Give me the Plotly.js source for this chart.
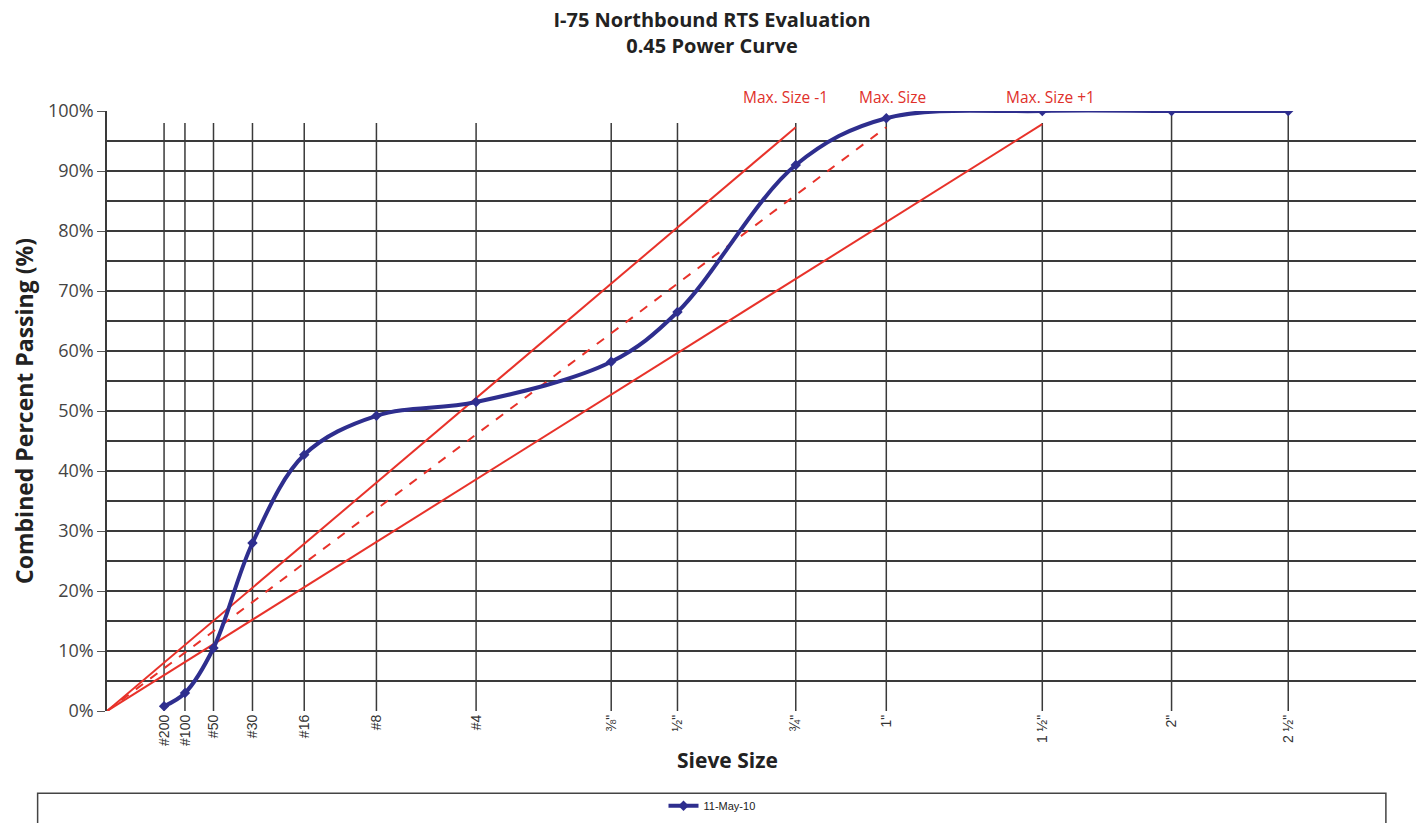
<!DOCTYPE html>
<html><head><meta charset="utf-8">
<script src="https://cdn.plot.ly/plotly-3.0.1.min.js"></script>
<style>html,body{margin:0;padding:0;background:#fff;}#chart{width:1424px;height:823px;}</style>
</head><body><div id="chart"></div>
<script>
// Sieve sizes (mm) and labels
const sieveLabels = ['#200','#100','#50','#30','#16','#8','#4','⅜"','½"','¾"','1"','1 ½"','2"','2 ½"'];
const sieveSizesMm = [0.075,0.15,0.3,0.6,1.18,2.36,4.75,9.5,12.5,19,25,37.5,50,63];
// Combined percent passing, 11-May-10
const percentPassing = [0.8,3,10.5,28,42.7,49.2,51.5,58.2,66.5,91,98.8,100,100,100];
// Maximum density lines: sizes (mm) and end percentage
const maxLineNames = ['Max. Size -1','Max. Size','Max. Size +1'];
const maxLineSizesMm = [19,25,37.5];
const maxLineEndPct = [97.3,97.3,97.8];
const dropLineTopPct = [98,98,98,98,98,98,98,98,98,98,99,98,100,100];
const exponent = 0.45;

const pw = d => Math.pow(d, exponent);
const xs = sieveSizesMm.map(pw);

const traces = [];
// vertical sieve lines
const vx = [], vy = [];
xs.forEach((x,i)=>{ vx.push(x,x,null); vy.push(0,dropLineTopPct[i],null); });
traces.push({x:vx,y:vy,mode:'lines',line:{color:'#3a3a3a',width:1.5},showlegend:false,hoverinfo:'skip'});
// max density lines
maxLineSizesMm.forEach((d,i)=>{
  traces.push({x:[0,pw(d)],y:[0,maxLineEndPct[i]],mode:'lines',
    line:{color:'#e8322a',width:2,dash:i===1?'dash':'solid'},showlegend:false,hoverinfo:'skip'});
});
// gradation curve
traces.push({x:xs,y:percentPassing,name:'11-May-10',mode:'lines+markers',
  line:{color:'#2e2e8e',width:4,shape:'spline',smoothing:1},
  marker:{symbol:'diamond',size:8,color:'#2e2e8e'}});

const annotations = maxLineNames.map((n,i)=>({
  x:pw(maxLineSizesMm[i]), y:1, xref:'x', yref:'paper', yanchor:'bottom', yshift:1,
  text:n, showarrow:false, font:{family:'Open Sans, sans-serif',size:15.5,color:'#e0302a'}
}));
annotations[0].xshift=-10; annotations[1].xshift=6; annotations[2].xshift=8;
annotations.push({x:0.474,y:-0.082,xref:'paper',yref:'paper',xanchor:'center',yanchor:'middle',
  text:'<b>Sieve Size</b>',showarrow:false,font:{family:'Open Sans, sans-serif',size:21,color:'#222'}});

const layout = {
  width:1424,height:823,
  margin:{l:107,r:8,t:111,b:112},
  paper_bgcolor:'#fff',plot_bgcolor:'#fff',
  title:{text:'<b>I-75 Northbound RTS Evaluation<br>0.45 Power Curve</b>',
    font:{family:'Open Sans, sans-serif',size:20,color:'#222'},x:0.5,xanchor:'center',y:0.967,yanchor:'middle'},
  xaxis:{range:[0,7.15],tickmode:'array',tickvals:xs,ticktext:sieveLabels,tickangle:-90,automargin:false,
    showgrid:false,zeroline:false,showline:false,ticks:'',
    tickfont:{family:'Liberation Sans, Arial, sans-serif',size:14,color:'#333'}},
  yaxis:{range:[0,100],tickvals:[0,10,20,30,40,50,60,70,80,90,100],automargin:false,
    ticktext:['0%','10%','20%','30%','40%','50%','60%','70%','80%','90%','100%'],
    showgrid:true,gridcolor:'#3a3a3a',gridwidth:1.5,
    minor:{dtick:5,showgrid:true,gridcolor:'#3a3a3a',gridwidth:1.5},
    zeroline:false,showline:true,linecolor:'#3a3a3a',linewidth:1.5,ticks:'outside',ticklen:8,tickcolor:'#555',
    tickfont:{family:'Open Sans, sans-serif',size:18,color:'#444'},
    title:{text:'<b>Combined Percent Passing (%)</b>',font:{family:'Open Sans, sans-serif',size:23,color:'#222'},standoff:8}},
  showlegend:true,
  legend:{orientation:'h',x:0.5,xanchor:'center',xref:'container',y:0.021,yanchor:'middle',yref:'container',
    font:{family:'Liberation Sans, Arial, sans-serif',size:11,color:'#222'},bgcolor:'rgba(0,0,0,0)'},
  shapes:[{type:'rect',xref:'paper',yref:'paper',x0:-0.053,x1:0.977,y0:-0.137,y1:-0.2,
    line:{color:'#444',width:1.5},fillcolor:'rgba(0,0,0,0)'}],
  annotations:annotations
};
Plotly.newPlot('chart',traces,layout,{displayModeBar:false});
</script></body></html>
